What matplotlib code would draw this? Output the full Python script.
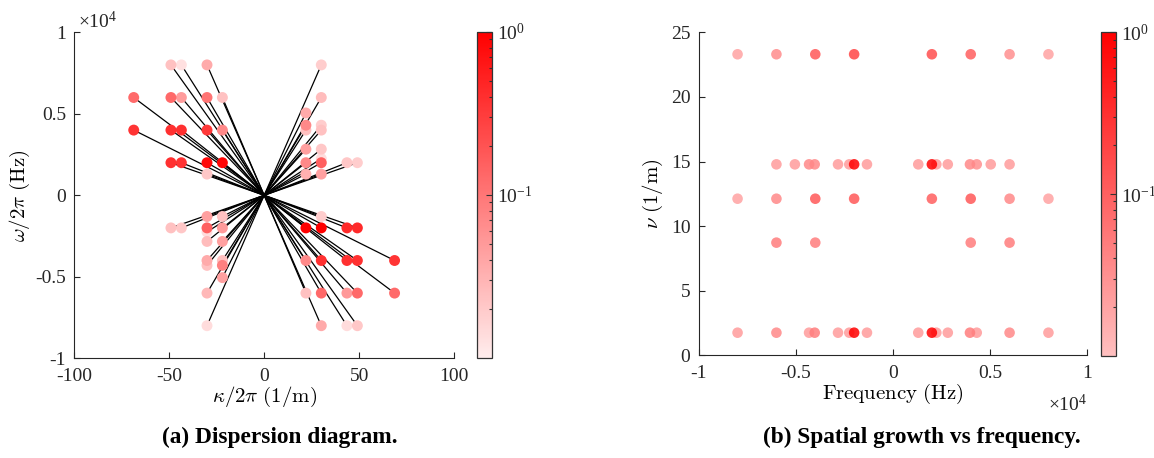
import numpy as np
import matplotlib
matplotlib.use("Agg")
import matplotlib.pyplot as plt
from matplotlib.colors import LinearSegmentedColormap, LogNorm
from matplotlib.ticker import FixedLocator, FuncFormatter, NullFormatter

plt.rcParams['font.family'] = ['Liberation Serif', 'DejaVu Serif']
plt.rcParams['mathtext.fontset'] = 'cm'
plt.rcParams['axes.unicode_minus'] = False

# ---------------- data: (a) dispersion diagram ----------------
kappa = [-49.1, -43.6, -30.1, 30.1,
         -68.7, -49.1, -43.6, -30.1, -22.0, 30.1,
         22.0, 22.0, 30.1,
         -68.7, -49.1, -43.6, -30.1, -22.0, 22.0, 30.1,
         22.0, 30.1, 30.1,
         -49.1, -43.6, -30.1, -22.0, 22.0, 30.1, 43.6, 49.1,
         -30.1, 22.0, 30.1,
         -30.1, -22.0, 30.1,
         -49.1, -43.6, -30.1, -22.0, 22.0, 30.1, 43.6, 49.1,
         -30.1, -22.0, -30.1,
         -30.1, -22.0, 22.0, 30.1, 43.6, 49.1, 68.7,
         -30.1, -22.0, -22.0,
         -30.1, 22.0, 30.1, 43.6, 49.1, 68.7,
         -30.1, 30.1, 43.6, 49.1]
omega_hz = [8000, 8000, 8000, 8000,
            6000, 6000, 6000, 6000, 6000, 6000,
            5050, 4300, 4300,
            4000, 4000, 4000, 4000, 4000, 4000, 4000,
            2830, 2830, 2250,
            2000, 2000, 2000, 2000, 2000, 2000, 2000, 2000,
            1300, 1300, 1300,
            -1300, -1300, -1300,
            -2000, -2000, -2000, -2000, -2000, -2000, -2000, -2000,
            -2830, -2830, -2250,
            -4000, -4000, -4000, -4000, -4000, -4000, -4000,
            -4300, -4300, -5050,
            -6000, -6000, -6000, -6000, -6000, -6000,
            -8000, -8000, -8000, -8000]
amp_a = [0.024, 0.013, 0.037, 0.019,
         0.127, 0.13, 0.048, 0.105, 0.024, 0.026,
         0.037, 0.071, 0.019,
         0.36, 0.39, 0.39, 0.33, 0.071, 0.024, 0.024,
         0.045, 0.021, 0.014,
         0.39, 0.36, 0.82, 0.9, 0.071, 0.156, 0.021, 0.019,
         0.021, 0.033, 0.045,
         0.045, 0.024, 0.019,
         0.024, 0.021, 0.156, 0.05, 1.0, 1.0, 0.44, 0.44,
         0.026, 0.045, 0.014,
         0.037, 0.024, 0.071, 0.39, 0.39, 0.39, 0.36,
         0.024, 0.083, 0.045,
         0.028, 0.024, 0.13, 0.051, 0.13, 0.127,
         0.014, 0.037, 0.014, 0.021]

# ---------------- data: (b) spatial growth vs frequency ----------------
freq_hz = [-8000, -6000, -4000, -2000, 2000, 4000, 6000, 8000,
           -6000, -5050, -4320, -4030, -2830, -2250, -2000, -1340,
           1300, 2000, 2230, 2820, 3960, 4310, 5030, 6000,
           -8000, -6000, -4000, -2000, 2000, 4000, 6000, 8000,
           -6000, -4000, 4000, 6000,
           -8000, -6000, -4320, -4030, -2830, -2250, -2000, -1340,
           1300, 2000, 2230, 2820, 3960, 4310, 6000, 8000]
nu = [23.3] * 8 + [14.78] * 16 + [12.12] * 8 + [8.72] * 4 + [1.75] * 16
amp_b = [0.020, 0.035, 0.12, 0.185, 0.15, 0.10, 0.032, 0.020,
         0.024, 0.024, 0.038, 0.038, 0.024, 0.024, 1.0, 0.024,
         0.024, 1.0, 0.024, 0.024, 0.038, 0.032, 0.024, 0.024,
         0.020, 0.038, 0.12, 0.12, 0.10, 0.12, 0.038, 0.020,
         0.05, 0.05, 0.05, 0.05,
         0.024, 0.038, 0.024, 0.05, 0.024, 0.024, 1.0, 0.024,
         0.024, 1.0, 0.024, 0.024, 0.05, 0.024, 0.038, 0.024]

xticks_a = [-100, -50, 0, 50, 100]
yticks_a = [-10000, -5000, 0, 5000, 10000]
xticks_b = [-10000, -5000, 0, 5000, 10000]
yticks_b = [0, 5, 10, 15, 20, 25]

cmap_a = LinearSegmentedColormap.from_list('wr', [(1, 0.93, 0.93), (1, 0, 0)])
cmap_b = LinearSegmentedColormap.from_list('pr', [(1, 0.75, 0.75), (1, 0, 0)])
norm = LogNorm(vmin=0.01, vmax=1)

W, H = 1154, 458
fig = plt.figure(figsize=(W / 100, H / 100), dpi=100)

def fx(px):
    return px / W

def fy(py):
    return 1 - py / H

ax1 = fig.add_axes([fx(74.3), fy(358.3), fx(454) - fx(74.3), fy(32.3) - fy(358.3)])
cax1 = fig.add_axes([fx(476.7), fy(358.3), fx(15.6), fy(31.7) - fy(358.3)])
ax2 = fig.add_axes([fx(698.7), fy(355.3), fx(1087.3) - fx(698.7), fy(32.3) - fy(355.3)])
cax2 = fig.add_axes([fx(1100.7), fy(355.7), fx(15.0), fy(32.3) - fy(355.7)])

spine_col = '#262626'
tick_fs = 14

def style_axes(ax):
    for s in ['top', 'right']:
        ax.spines[s].set_visible(False)
    for s in ['left', 'bottom']:
        ax.spines[s].set_color(spine_col)
        ax.spines[s].set_linewidth(0.8)
    ax.tick_params(direction='in', length=4, width=0.8, colors=spine_col,
                   labelsize=tick_fs, labelcolor='#262626')
    ax.tick_params(axis='x', pad=7)
    ax.tick_params(axis='y', pad=6)

fmt_e4 = FuncFormatter(lambda v, p: '%g' % (v / 1e4))

# ---- (a)
k = np.array(kappa)
w = np.array(omega_hz, dtype=float)
a = np.array(amp_a)
for ki, wi in zip(k, w):
    ax1.plot([0, ki], [0, wi], color='black', lw=0.9, zorder=1)
order = np.argsort(a)
sc1 = ax1.scatter(k[order], w[order], c=a[order], cmap=cmap_a, norm=norm,
                  s=62, edgecolors='none', zorder=2)
ax1.set_xlim(-100, 100)
ax1.set_ylim(-10000, 10000)
ax1.set_xticks(xticks_a)
ax1.set_yticks(yticks_a)
ax1.yaxis.set_major_formatter(fmt_e4)
style_axes(ax1)
ax1.set_xlabel(r'$\kappa/2\pi\ (1/\mathrm{m})$', fontsize=15, labelpad=0)
ax1.set_ylabel(r'$\omega/2\pi\ (\mathrm{Hz})$', fontsize=15, labelpad=2)
fig.text(fx(78), fy(28), r'$\mathregular{\times 10^{4}}$', fontsize=14,
         ha='left', va='baseline', color='#262626')

# ---- (b)
f = np.array(freq_hz, dtype=float)
n = np.array(nu)
b = np.array(amp_b)
order = np.argsort(b)
sc2 = ax2.scatter(f[order], n[order], c=b[order], cmap=cmap_b, norm=norm,
                  s=58, edgecolors='none', alpha=0.85, zorder=2)
ax2.set_xlim(-10000, 10000)
ax2.set_ylim(0, 25)
ax2.set_xticks(xticks_b)
ax2.set_yticks(yticks_b)
ax2.xaxis.set_major_formatter(fmt_e4)
style_axes(ax2)
ax2.set_xlabel(r'$\mathrm{Frequency\ (Hz)}$', fontsize=15, labelpad=0)
ax2.set_ylabel(r'$\nu\ (1/\mathrm{m})$', fontsize=15, labelpad=4)
fig.text(fx(1087), fy(394), r'$\mathregular{\times 10^{4}}$', fontsize=14,
         ha='right', va='top', color='#262626')

# ---- colorbars
for sc, cax in [(sc1, cax1), (sc2, cax2)]:
    cb = fig.colorbar(sc, cax=cax)
    cb.solids.set_alpha(1)
    cb.outline.set_edgecolor('#333333')
    cb.outline.set_linewidth(0.9)
    cax.yaxis.set_major_locator(FixedLocator([0.1, 1.0]))
    cax.yaxis.set_major_formatter(FuncFormatter(
        lambda v, p: r'$\mathregular{10^{0}}$' if v > 0.5 else r'$\mathregular{10^{-1}}$'))
    minors = [m * 0.01 for m in range(2, 10)] + [m * 0.1 for m in range(2, 10)]
    cax.yaxis.set_minor_locator(FixedLocator(minors))
    cax.yaxis.set_minor_formatter(NullFormatter())
    cax.tick_params(which='both', direction='in', right=True, left=False,
                    colors='#333333', width=0.8, labelsize=tick_fs, labelcolor='#262626')
    cax.tick_params(which='major', length=4)
    cax.tick_params(which='minor', length=2.5)

# ---- captions
fig.text(fx(280), fy(437), '(a) Dispersion diagram.', fontsize=16.8,
         fontweight='bold', ha='center', va='center')
fig.text(fx(922), fy(437), '(b) Spatial growth vs frequency.', fontsize=16.8,
         fontweight='bold', ha='center', va='center')

fig.savefig('out.png', dpi=100)
